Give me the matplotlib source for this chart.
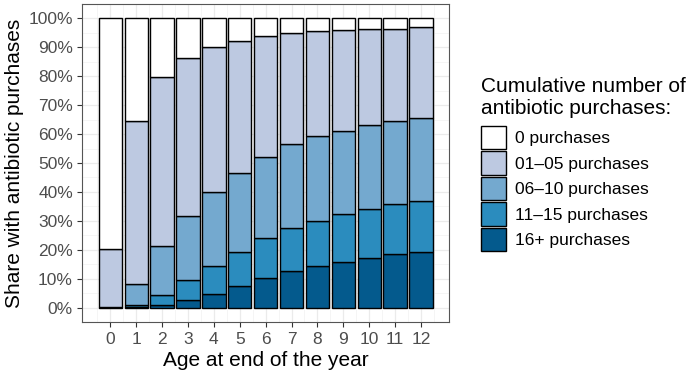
import matplotlib
matplotlib.use("Agg")
import matplotlib.pyplot as plt
from matplotlib.patches import Patch
import numpy as np

plt.rcParams['font.family'] = ['Liberation Sans', 'DejaVu Sans']

######################################################################
# DATA (share in %)

ages = list(range(13))
categories = ["0 purchases", "01\u201305 purchases", "06\u201310 purchases",
              "11\u201315 purchases", "16+ purchases"]
p16 = [0.05, 0.3, 1.0, 2.5, 4.8, 7.5, 10.1, 12.6, 14.3, 15.8, 17.2, 18.4, 19.2]
p11 = [0.05, 0.6, 3.4, 6.9, 9.7, 11.8, 13.8, 14.8, 15.8, 16.4, 16.8, 17.3, 17.7]
p06 = [0.2, 7.2, 16.9, 22.4, 25.4, 27.3, 28.3, 29.0, 29.1, 29.0, 29.0, 28.9, 28.8]
p01 = [19.9, 56.4, 58.3, 54.6, 50.2, 45.7, 41.8, 38.5, 36.4, 34.9, 33.3, 31.9, 31.2]
p00 = [79.8, 35.5, 20.4, 13.6, 9.9, 7.8, 6.0, 5.1, 4.4, 3.9, 3.7, 3.5, 3.1]
colors = ["#FFFFFF", "#BDC9E1", "#74A9CF", "#2B8CBE", "#045A8D"]
ytick_vals = list(range(0, 101, 10))
ytick_labels = [f"{v}%" for v in ytick_vals]

######################################################################
# PLOT

W, H = 691, 375
fig = plt.figure(figsize=(W / 100, H / 100), dpi=100)
ax = fig.add_axes([82 / W, 53 / H, 367.3 / W, 318 / H])

x = np.array(ages)
bottom = np.zeros(len(ages))
series = [p16, p11, p06, p01, p00]
for vals, col in zip(series, colors[::-1]):
    ax.bar(x, vals, width=0.9, bottom=bottom, color=col,
           edgecolor="black", linewidth=1.0, zorder=3)
    bottom += np.array(vals)

ax.set_xlim(-1.095, 13.095)
ax.set_ylim(-5, 105)
ax.set_xticks(ages)
ax.set_xticks(np.arange(-0.5, 13, 1), minor=True)
ax.set_yticks(ytick_vals)
ax.set_yticklabels(ytick_labels)
ax.set_yticks(np.arange(5, 100, 10), minor=True)

ax.grid(True, which="major", color="#EBEBEB", linewidth=0.9, zorder=0)
ax.grid(True, which="minor", color="#F2F2F2", linewidth=0.5, zorder=0)
ax.tick_params(which="major", length=3.5, width=0.8, color="#333333",
               labelsize=12.5, labelcolor="#4D4D4D", pad=3)
ax.tick_params(axis="x", which="major", pad=12.3)
ax.tick_params(which="minor", length=0)
plt.setp(ax.get_xticklabels(), va="baseline")
for s in ax.spines.values():
    s.set_color("#555555")
    s.set_linewidth(0.8)

ax.set_xlabel("Age at end of the year", fontsize=15)
ax.xaxis.label.set_va("baseline")
ax.xaxis.set_label_coords(0.5, -(366 - 322) / 318)
ax.set_ylabel("Share with antibiotic purchases", fontsize=15, labelpad=3)

# legend title drawn as plain text, keys below it
fig.text(481 / W, 1 - 92.3 / H, "Cumulative number of", fontsize=15,
         ha="left", va="baseline")
fig.text(481 / W, 1 - 113.5 / H, "antibiotic purchases:", fontsize=15,
         ha="left", va="baseline")

handles = [Patch(facecolor=c, edgecolor="black", linewidth=1.0) for c in colors]
leg = fig.legend(handles, categories, loc="upper left",
                 bbox_to_anchor=(481 / W, 1 - 125.7 / H),
                 fontsize=12.5, frameon=False, borderpad=0,
                 handlelength=1.44, handleheight=1.714, labelspacing=0.11,
                 handletextpad=0.5, borderaxespad=0)

fig.savefig("out.png", dpi=100)
